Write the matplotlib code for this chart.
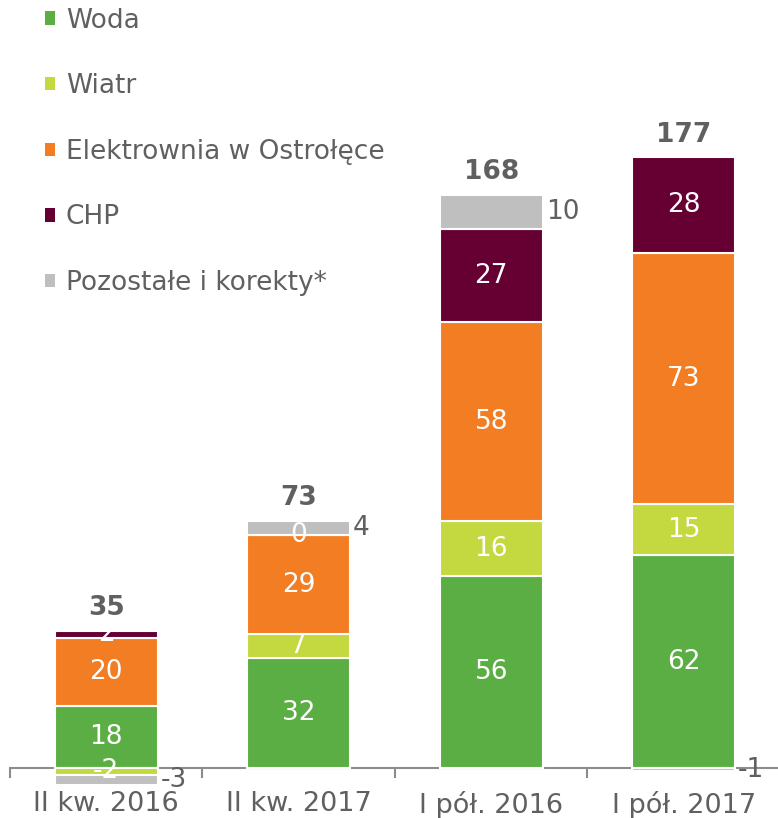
import matplotlib
matplotlib.use("Agg")
import matplotlib.pyplot as plt
from matplotlib.patches import Patch
import numpy as np

categories = ["II kw. 2016", "II kw. 2017", "I pół. 2016", "I pół. 2017"]
series_names = ["Woda", "Wiatr", "Elektrownia w Ostrołęce", "CHP", "Pozostałe i korekty*"]
woda = [18, 32, 56, 62]
wiatr = [-2, 7, 16, 15]
elektrownia = [20, 29, 58, 73]
chp = [2, 0, 27, 28]
pozostale = [-3, 4, 10, -1]
totals = [35, 73, 168, 177]

colors = ["#5BAE44", "#C4D83F", "#F37D22", "#660033", "#BFBFBF"]
text_gray = "#606060"

plt.rcParams['font.family'] = ['DejaVu Sans']
fig = plt.figure(figsize=(7.78, 8.18), dpi=100)
W, H = 778, 818
ax = fig.add_axes([10 / W, 28 / H, 770 / W, 790 / H])

series = [woda, wiatr, elektrownia, chp, pozostale]
x = np.arange(len(categories))
bw = 0.535
pos_base = np.zeros(len(categories))
neg_base = np.zeros(len(categories))
fs = 19

for si, (vals, col) in enumerate(zip(series, colors)):
    vals = np.array(vals, dtype=float)
    bottoms = np.where(vals >= 0, pos_base, neg_base)
    ax.bar(x, vals, bw, bottom=bottoms, color=col, edgecolor="white",
           linewidth=1.5, zorder=2)
    for i, v in enumerate(vals):
        yc = bottoms[i] + v / 2
        if si == 4:
            ax.text(x[i] + bw / 2 + 0.015, yc, f"{int(v)}", ha="left", va="center",
                    color=text_gray, fontsize=fs, zorder=3)
        else:
            ax.text(x[i], yc, f"{int(v)}", ha="center", va="center",
                    color="white", fontsize=fs, zorder=3)
    pos_base = pos_base + np.where(vals >= 0, vals, 0)
    neg_base = neg_base + np.where(vals < 0, vals, 0)

for i, t in enumerate(totals):
    ax.annotate(f"{t}", (x[i], pos_base[i]), xytext=(0, 7), textcoords="offset points",
                ha="center", va="bottom", fontsize=fs, fontweight="bold", color=text_gray)

ax.set_xlim(-0.5, 3.5)
ax.set_ylim(-6.4, 223.9)
for s in ["left", "right", "top"]:
    ax.spines[s].set_visible(False)
ax.spines["bottom"].set_position(("data", 0))
ax.spines["bottom"].set_color("#8C8C8C")
ax.spines["bottom"].set_linewidth(1.5)
ax.spines["bottom"].set_zorder(1)
ax.set_yticks([])
ax.set_xticks(x)
ax.set_xticklabels(categories, fontsize=19.5, color=text_gray)
ax.tick_params(axis="x", which="major", length=0, pad=16.5)
ax.set_xticks(np.arange(-0.5, 4, 1), minor=True)
ax.tick_params(axis="x", which="minor", length=7, width=1.5, color="#8C8C8C", direction="out")

handles = [Patch(facecolor=c, edgecolor="none") for c in colors]
leg = fig.legend(handles, series_names, loc="upper left", bbox_to_anchor=(34 / W, 1 + 3 / H),
                 frameon=False, fontsize=fs, labelcolor=text_gray, handlelength=0.4,
                 handleheight=0.4, handletextpad=0.4, labelspacing=1.5, borderaxespad=0)

fig.savefig("out.png", dpi=100)
